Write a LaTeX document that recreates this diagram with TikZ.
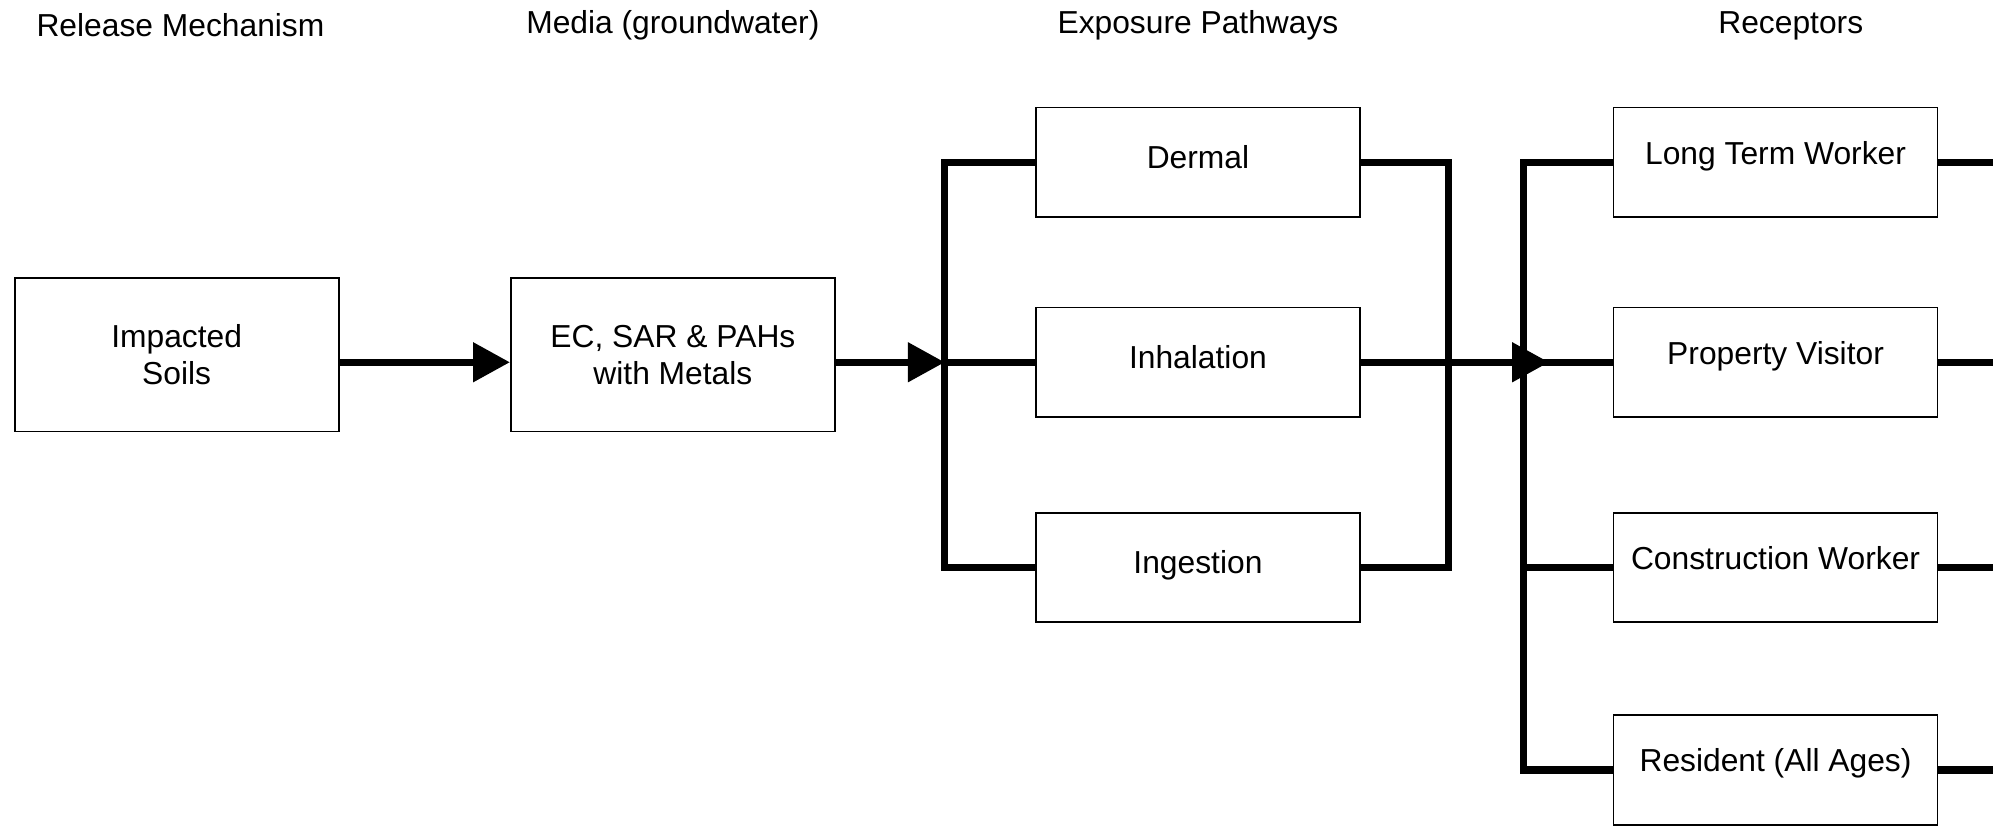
\documentclass[tikz,border=0pt]{standalone}
\usepackage{fontspec}
\setmainfont{Liberation Sans}
\usetikzlibrary{positioning,arrows.meta,calc}
\def\BoxWidth{127.5pt}
\def\BoxHeight{43pt}
\tikzset{
	box/.style={draw,line width=0.7pt,minimum width=\BoxWidth,minimum height=\BoxHeight,inner sep=0pt,align=center,font=\fontsize{12.5}{14.5}\selectfont},
	srcbox/.style={box,minimum height=60.5pt},
	pathbox/.style={box,text height=9pt,text depth=4pt},
	recbox/.style={box,text height=9pt,text depth=7.5pt},
	heading/.style={font=\fontsize{12.5}{14.5}\selectfont},
	link/.style={line width=2.9pt},
	flow/.style={link,-{Triangle[length=14.5pt,width=15pt]}},
}
\begin{document}
\begin{tikzpicture}[x=0.5pt,y=-0.5pt]
			\useasboundingbox (0,0) rectangle (1568,650);
			% release and media
			\node[srcbox] (soil) at (139,279) {Impacted\\Soils};
			\node[srcbox,right=67pt of soil] (media) {EC, SAR \& PAHs\\with Metals};
			% exposure pathways
			\node[pathbox] (inhal) at (942.5,285) {Inhalation};
			\node[pathbox,above=35pt of inhal] (dermal) {Dermal};
			\node[pathbox,below=37pt of inhal] (ingest) {Ingestion};
			% receptors
			\node[recbox,right=99pt of dermal] (ltw) {Long Term Worker};
			\node[recbox,right=99pt of inhal] (pv) {Property Visitor};
			\node[recbox,right=99pt of ingest] (cw) {Construction Worker};
			\node[recbox,below=36pt of cw] (res) {Resident (All Ages)};
			% 
			\coordinate (barA) at ($(inhal.west)+(-71,0)$);
			\coordinate (barB) at ($(inhal.east)+(69,0)$);
			\coordinate (barC) at ($(pv.west)+(-70,0)$);
			\coordinate (tip) at ($(pv.west)+(-50,0)$);
			\coordinate (edge) at (1568,0);
			\coordinate (ttl) at (0,20);
			% headings
			\node[heading] (t1) at ($(soil |- ttl)+(3,0)$) {Release Mechanism};
			\node[heading] (t2) at (media |- ttl) {Media (groundwater)};
			\node[heading] (t3) at (inhal |- ttl) {Exposure Pathways};
			\node[heading] (t4) at ($(pv |- ttl)+(12,0)$) {Receptors};
			% 
			\draw[flow] (soil.east |- inhal) -- (media.west |- inhal);
			\draw[flow] (media.east |- inhal) -- (barA);
			\draw[link] (dermal.west) -| (barA) |- (ingest.west);
			\draw[link] (barA) -- (inhal.west);
			\draw[link] (dermal.east) -| (barB) |- (ingest.east);
			\draw[link] (ltw.west) -| (barC) |- (res.west);
			\draw[link] (barC) -- (pv.west);
			\draw[link] (barC |- cw) -- (cw.west);
			\draw[flow] (inhal.east) -- (tip);
			\foreach \r in {ltw,pv,cw,res}
				\draw[link] (\r.east) -- (edge |- \r.east);
		\end{tikzpicture}
\end{document}
